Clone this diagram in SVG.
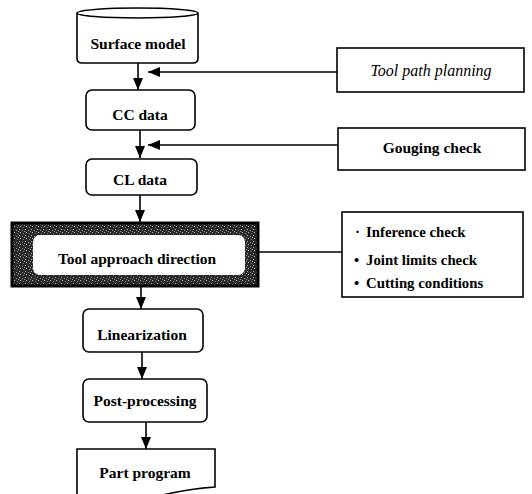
<svg xmlns="http://www.w3.org/2000/svg" width="532" height="494" viewBox="0 0 532 494">
<style>
.box{fill:#fff;stroke:#000;stroke-width:1.6}
.t{font-family:'Liberation Serif','DejaVu Serif','Times New Roman',Times,serif;font-size:15.5px;font-weight:bold;fill:#000;text-anchor:middle}
.ti{font-family:'Liberation Serif','DejaVu Serif','Times New Roman',Times,serif;font-size:16px;font-style:italic;fill:#000;text-anchor:middle}
.li{font-family:'Liberation Serif','DejaVu Serif','Times New Roman',Times,serif;font-size:14.8px;font-weight:bold;fill:#000}
.c{stroke:#000;stroke-width:1.6;fill:none}
</style>
<defs>
<marker id="ah" viewBox="0 0 12 10" refX="12" refY="5" markerWidth="12" markerHeight="10" markerUnits="userSpaceOnUse" orient="auto">
<path d="M0,0 L12,5 L0,10 Z" fill="#000"/>
</marker>
<pattern id="spk" width="6" height="6" patternUnits="userSpaceOnUse">
<rect width="6" height="6" fill="#2a2a2a"/>
<rect x="1" y="1" width="1" height="1" fill="#aaa"/>
<rect x="4" y="2" width="1" height="1" fill="#888"/>
<rect x="2" y="4" width="1" height="1" fill="#bbb"/>
<rect x="5" y="5" width="1" height="1" fill="#777"/>
<rect x="0" y="3" width="1" height="1" fill="#999"/>
</pattern>
</defs>

<g id="connectors">
<line class="c" x1="138" y1="63" x2="138" y2="90" marker-end="url(#ah)"/>
<line class="c" x1="337" y1="72" x2="148" y2="72" marker-end="url(#ah)"/>
<line class="c" x1="140" y1="130" x2="140" y2="158" marker-end="url(#ah)"/>
<line class="c" x1="338" y1="145" x2="148" y2="145" marker-end="url(#ah)"/>
<line class="c" x1="140" y1="195" x2="140" y2="222" marker-end="url(#ah)"/>
<line class="c" x1="258" y1="252" x2="342" y2="252"/>
<line class="c" x1="141" y1="286" x2="141" y2="309" marker-end="url(#ah)"/>
<line class="c" x1="142" y1="352" x2="142" y2="379" marker-end="url(#ah)"/>
<line class="c" x1="146" y1="422" x2="146" y2="449" marker-end="url(#ah)"/>
</g>

<g id="surface-model">
<path class="box" d="M77,13 V58 Q77,63 82,63 H193 Q198,63 198,58 V13"/>
<ellipse class="box" cx="137.5" cy="13" rx="60.5" ry="5"/>
<text class="t" x="138" y="49">Surface model</text>
</g>

<g id="cc-data">
<rect class="box" x="86" y="90" width="109" height="40" rx="6"/>
<text class="t" x="140" y="120">CC data</text>
</g>

<g id="cl-data">
<rect class="box" x="86" y="159" width="111" height="36" rx="6"/>
<text class="t" x="140" y="185">CL data</text>
</g>

<g id="tool-approach">
<rect x="12" y="223" width="246" height="63" fill="url(#spk)"/>
<rect x="12" y="223" width="246" height="63" fill="none" stroke="#000" stroke-width="3"/>
<rect x="33" y="235" width="212" height="40" rx="7" fill="#fff"/>
<text class="t" x="137" y="264">Tool approach direction</text>
</g>

<g id="linearization">
<rect class="box" x="83" y="309" width="120" height="43" rx="6"/>
<text class="t" x="142" y="340">Linearization</text>
</g>

<g id="post-processing">
<rect class="box" x="83" y="379" width="124" height="43" rx="6"/>
<text class="t" x="145" y="406">Post-processing</text>
</g>

<g id="part-program">
<path class="box" d="M77,498 V449 H215 V487 Q185,489 150,498"/>
<text class="t" x="145" y="478">Part program</text>
</g>

<g id="tool-path-planning">
<rect class="box" x="337" y="48" width="187" height="44"/>
<text class="ti" x="431" y="76">Tool path planning</text>
</g>

<g id="gouging-check">
<rect class="box" x="338" y="128" width="187" height="42"/>
<text class="t" x="432" y="153">Gouging check</text>
</g>

<g id="checks">
<rect class="box" x="342" y="212" width="181" height="85"/>
<text class="li" x="355" y="237"><tspan>·</tspan><tspan x="366">Inference check</tspan></text>
<text class="li" x="354" y="265"><tspan>•</tspan><tspan x="366">Joint limits check</tspan></text>
<text class="li" x="354" y="288"><tspan>•</tspan><tspan x="366">Cutting conditions</tspan></text>
</g>
</svg>
